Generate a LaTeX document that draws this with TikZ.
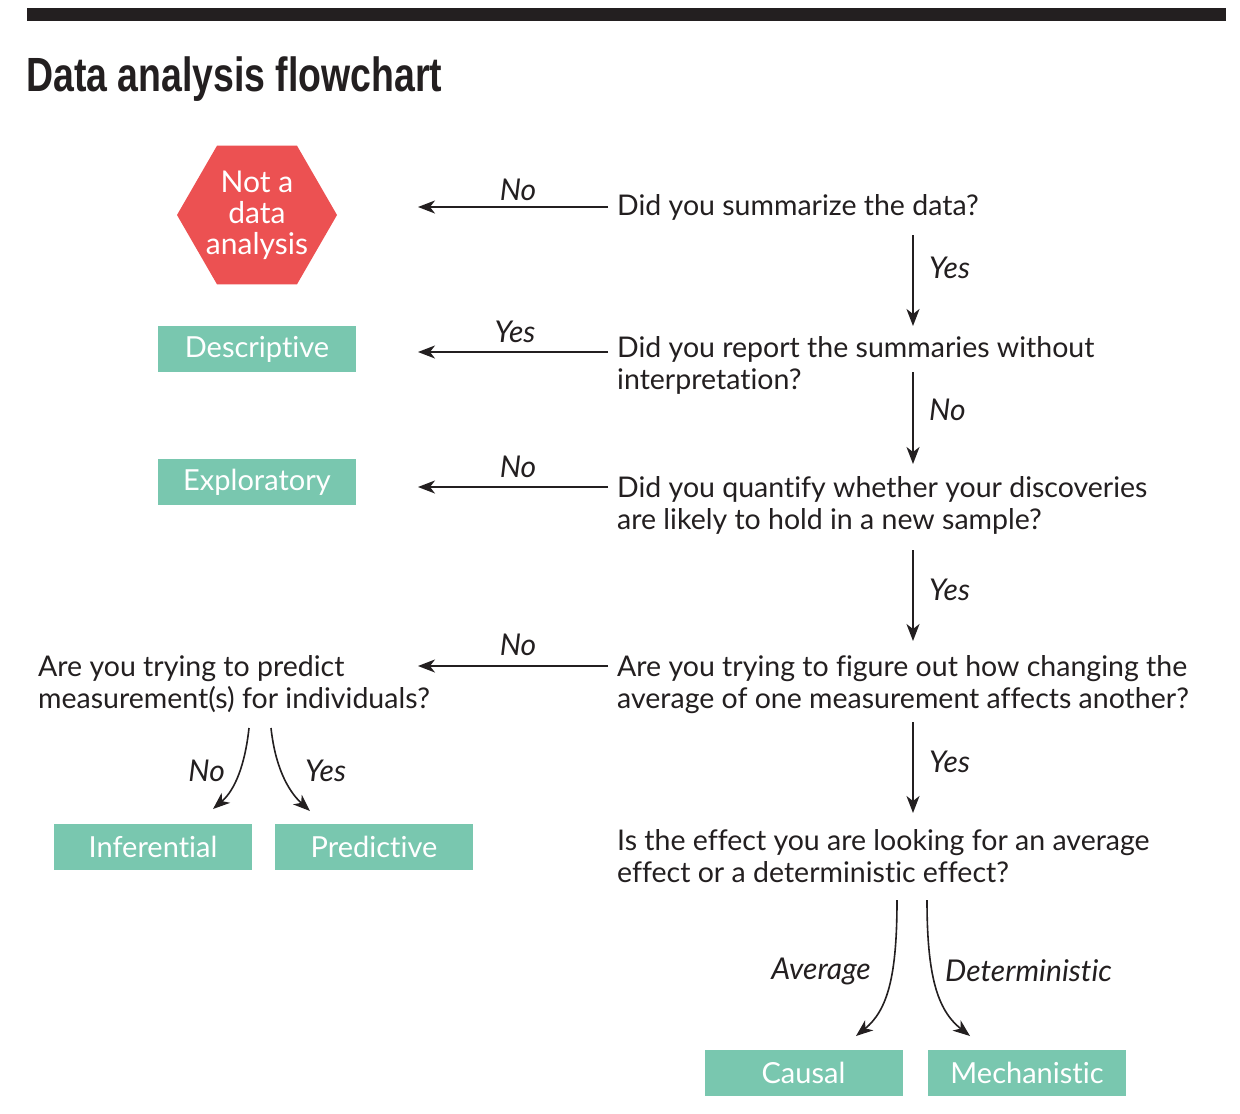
\documentclass[tikz,border=0pt]{standalone}
\usepackage{fontspec}
\setmainfont{Lato}[Ligatures={NoCommon}]
\newfontfamily\titlefont[FakeStretch=0.78]{Liberation Sans}
\usetikzlibrary{arrows.meta}
\definecolor{ink}{HTML}{231F20}
\definecolor{hexred}{HTML}{EC5152}
\definecolor{mint}{HTML}{79C7AF}
\tikzset{
  body/.style={font=\fontsize{28.5}{32}\selectfont, text=ink, inner sep=0pt, align=left},
  lbl/.style={font=\fontsize{30}{32}\selectfont\itshape, text=ink, inner sep=0pt},
  box/.style={fill=mint, text=white, minimum width=198pt, minimum height=46pt, inner sep=0pt, font=\fontsize{29}{32}\selectfont},
  arr/.style={draw=ink, line width=1.6pt, -{Stealth[length=17pt,width=13pt,inset=5pt]}},
}
\begin{document}
\begin{tikzpicture}[x=1pt,y=-1pt]
\fill[white] (0,0) rectangle (1240,1114);
\useasboundingbox (0,0) rectangle (1240,1114);
% top bar and title
\fill[ink] (27,8) rectangle (1226,21);
\node[anchor=base west, inner sep=0pt, text=ink, font=\titlefont\bfseries\fontsize{48}{50}\selectfont] (title) at (26,91) {Data analysis flowchart};
% hexagon
\fill[hexred] (177,215) -- (217,145.7) -- (297,145.7) -- (337,215) -- (297,284.3) -- (217,284.3) -- cycle;
\node[text=white, align=center, inner sep=0pt, font=\fontsize{30}{31}\selectfont] (hex) at (257,215) {Not a\\data\\analysis};
% boxes
\node[box] (desc) at (257,349) {Descriptive};
\node[box] (expl) at (257,482) {Exploratory};
\node[box] (infer) at (153,846.5) {Inferential};
\node[box] (pred) at (374,846.5) {Predictive};
\node[box] (causal) at (803.5,1073) {Causal};
\node[box] (mech) at (1027,1073) {Mechanistic};
% questions
\node[body, anchor=base west] (q1) at (617,215) {Did you summarize the data?};
\node[body, anchor=north west] (q2) at (617,336) {Did you report the summaries without\\interpretation?};
\node[body, anchor=north west] (q3) at (617,476) {Did you quantify whether your discoveries\\are likely to hold in a new sample?};
\node[body, anchor=north west] (q4) at (617,655) {Are you trying to figure out how changing the\\average of one measurement affects another?};
\node[body, anchor=north west] (q5) at (617,829) {Is the effect you are looking for an average\\effect or a deterministic effect?};
\node[body, anchor=north west] (qp) at (38,655) {Are you trying to predict\\measurement(s) for individuals?};
% connector end points
\coordinate (h1s) at (608,207); \coordinate (h1e) at (418,207);
\coordinate (h2s) at (608,352); \coordinate (h2e) at (418,352);
\coordinate (h3s) at (608,487); \coordinate (h3e) at (418,487);
\coordinate (h4s) at (608,666); \coordinate (h4e) at (418,666);
\coordinate (v1s) at (913,235); \coordinate (v1e) at (913,326);
\coordinate (v2s) at (913,372); \coordinate (v2e) at (913,464);
\coordinate (v3s) at (913,550); \coordinate (v3e) at (913,641);
\coordinate (v4s) at (913,722); \coordinate (v4e) at (913,813);
\coordinate (c1s) at (249,728); \coordinate (c1e) at (213,809);
\coordinate (c2s) at (271,728); \coordinate (c2e) at (310,811);
\coordinate (c3s) at (897,900); \coordinate (c3e) at (856,1036);
\coordinate (c4s) at (927,900); \coordinate (c4e) at (970,1036);
% connectors
\draw[arr] (h1s) -- (h1e);
\draw[arr] (h2s) -- (h2e);
\draw[arr] (h3s) -- (h3e);
\draw[arr] (h4s) -- (h4e);
\draw[arr] (v1s) -- (v1e);
\draw[arr] (v2s) -- (v2e);
\draw[arr] (v3s) -- (v3e);
\draw[arr] (v4s) -- (v4e);
\draw[arr] (c1s) .. controls (245,765) and (235,790) .. (c1e);
\draw[arr] (c2s) .. controls (275,765) and (287,790) .. (c2e);
\draw[arr] (c3s) .. controls (897,975) and (888,1010) .. (c3e);
\draw[arr] (c4s) .. controls (927,975) and (937,1010) .. (c4e);
% labels
\node[lbl] (l1) at (518,190) {No};
\node[lbl] (l2) at (515,332) {Yes};
\node[lbl] (l3) at (518,467) {No};
\node[lbl] (l4) at (518,645) {No};
\node[lbl, anchor=west] (l5) at (929,268) {Yes};
\node[lbl, anchor=west] (l6) at (929,410) {No};
\node[lbl, anchor=west] (l7) at (929,590) {Yes};
\node[lbl, anchor=west] (l8) at (929,762) {Yes};
\node[lbl, anchor=east] (l9) at (225,771) {No};
\node[lbl, anchor=west] (l10) at (305,771) {Yes};
\node[lbl, anchor=east] (l11) at (871,971) {Average};
\node[lbl, anchor=west] (l12) at (945,971) {Deterministic};
\end{tikzpicture}
\end{document}
